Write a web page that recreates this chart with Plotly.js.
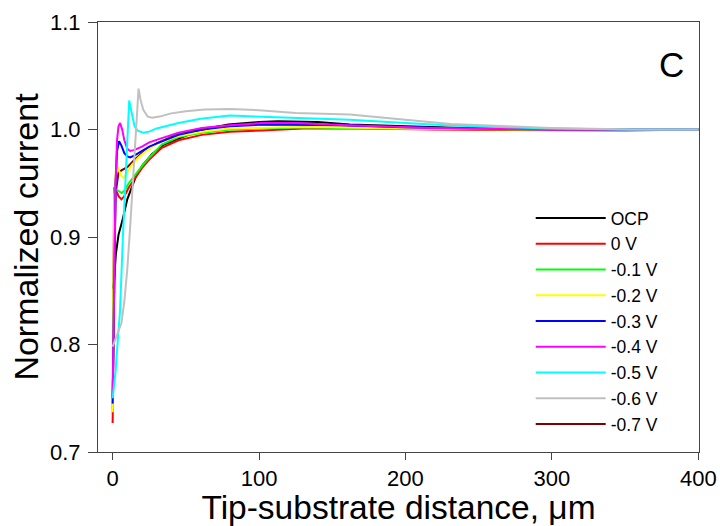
<!DOCTYPE html>
<html>
<head>
<meta charset="utf-8">
<script src="https://cdn.plot.ly/plotly-3.0.1.min.js"></script>
<style>html,body{margin:0;padding:0;background:#fff;}#chart{width:720px;height:526px;}</style>
</head>
<body>
<div id="chart"></div>
<script>
// Series names and colours
const seriesNames = ["OCP", "0 V", "-0.1 V", "-0.2 V", "-0.3 V", "-0.4 V", "-0.5 V", "-0.6 V", "-0.7 V"];

// OCP
const xOCP = [0.3, 0.9, 2.2, 4, 6.6, 10, 15.5, 20, 26.8, 35, 51.6, 65, 79, 100, 113, 140, 162, 200, 250, 300, 350, 400];
const yOCP = [0.852, 0.858, 0.884, 0.902, 0.915, 0.935, 0.955, 0.966, 0.977, 0.986, 0.995, 1.001, 1.0046, 1.007, 1.0077, 1.007, 1.0046, 1.003, 1.001, 1.000, 1.000, 1.000];
// 0 V
const x0V = [0, 0.3, 0.6, 1, 2, 4, 6, 8, 11, 15.4, 20, 25, 33.6, 45, 61, 80, 102, 130, 170, 220, 300, 350, 400];
const y0V = [0.727, 0.76, 0.85, 0.946, 0.945, 0.938, 0.935, 0.938, 0.946, 0.955, 0.964, 0.972, 0.983, 0.990, 0.995, 0.998, 0.999, 1.001, 1.001, 1.000, 0.999, 0.999, 1.000];
// -0.1 V
const xM01 = [0, 0.3, 0.7, 1.2, 2, 4, 6, 8, 11, 15.4, 20, 25, 33.6, 45, 61, 80, 102, 130, 170, 220, 300, 400];
const yM01 = [0.74, 0.78, 0.88, 0.94, 0.944, 0.943, 0.941, 0.943, 0.95, 0.958, 0.966, 0.974, 0.986, 0.993, 0.997, 1.000, 1.001, 1.002, 1.001, 1.0005, 1.000, 1.000];
// -0.2 V
const xM02 = [0, 0.3, 0.7, 1.2, 2.5, 4, 5.5, 7.4, 10, 13, 17.6, 22, 27, 33.6, 45, 61, 80, 115, 150, 200, 300, 400];
const yM02 = [0.737, 0.79, 0.88, 0.94, 0.968, 0.963, 0.958, 0.955, 0.960, 0.967, 0.974, 0.979, 0.984, 0.989, 0.994, 0.998, 1.001, 1.002, 1.002, 1.001, 1.000, 1.000];
// -0.3 V
const xM03 = [0, 0.5, 1, 2, 3, 4.4, 6, 8, 10, 12, 15, 20, 25, 33.6, 45, 61, 80, 102, 130, 160, 197, 250, 300, 400];
const yM03 = [0.745, 0.80, 0.88, 0.95, 0.98, 0.989, 0.985, 0.978, 0.975, 0.974, 0.976, 0.980, 0.984, 0.989, 0.995, 1.000, 1.003, 1.0046, 1.0045, 1.004, 1.002, 1.001, 1.000, 1.000];
// -0.4 V
const xM04 = [0, 0.5, 1, 2, 3, 4, 5.1, 6.5, 8, 10, 12, 15, 20, 25, 33.6, 45, 61, 80, 102, 125, 160, 219, 300, 400];
const yM04 = [0.75, 0.80, 0.87, 0.95, 0.99, 1.003, 1.006, 1.0, 0.99, 0.982, 0.980, 0.981, 0.984, 0.988, 0.992, 0.997, 1.0015, 1.004, 1.006, 1.006, 1.004, 1.0015, 1.000, 1.000];
// -0.5 V
const xM05 = [0, 1, 2, 4, 5, 7, 8.5, 10, 11.3, 12.3, 13.5, 15, 17, 21, 25, 30, 45, 60, 80, 102, 130, 162, 200, 231, 270, 299, 350, 400];
const yM05 = [0.75, 0.76, 0.775, 0.813, 0.83, 0.90, 0.943, 0.99, 1.027, 1.02, 1.011, 1.003, 0.999, 0.997, 0.998, 1.001, 1.006, 1.010, 1.013, 1.012, 1.011, 1.009, 1.006, 1.0037, 1.002, 1.001, 1.000, 1.000];
// -0.6 V
const xM06 = [0, 2, 4, 6, 8, 10, 12, 13.6, 15.5, 17.7, 19, 21, 24, 27, 32, 40, 50, 63, 80, 100, 125, 162, 200, 231, 270, 299, 356, 400];
const yM06 = [0.798, 0.805, 0.812, 0.82, 0.84, 0.87, 0.91, 0.946, 0.99, 1.038, 1.028, 1.018, 1.012, 1.011, 1.012, 1.015, 1.017, 1.0185, 1.019, 1.018, 1.0154, 1.0139, 1.009, 1.0052, 1.003, 1.0015, 1.000, 1.000];
// -0.7 V
const xM07 = [0, 0.5, 1, 2, 4, 6, 10, 15, 20, 30, 45, 61, 80, 100, 130, 170, 220, 300, 400];
const yM07 = [0.75, 0.80, 0.88, 0.94, 0.96, 0.962, 0.965, 0.972, 0.978, 0.987, 0.996, 1.001, 1.004, 1.005, 1.005, 1.003, 1.001, 1.000, 1.000];

const seriesX = [xOCP, x0V, xM01, xM02, xM03, xM04, xM05, xM06, xM07];
const seriesY = [yOCP, y0V, yM01, yM02, yM03, yM04, yM05, yM06, yM07];
const colors = ["#000000", "#ff0000", "#00ff00", "#ffff00", "#0000ff", "#ff00ff", "#00ffff", "#c0c0c0", "#800000"];

const xTicks = [0, 100, 200, 300, 400];
const yTicks = [0.7, 0.8, 0.9, 1.0, 1.1];

// draw -0.7 V first (underneath), keep legend order via legendrank
const drawOrder = [8, 0, 1, 2, 3, 4, 5, 6, 7];
const traces = drawOrder.map(i => ({
  x: seriesX[i], y: seriesY[i], name: seriesNames[i],
  type: "scatter", mode: "lines",
  line: {color: colors[i], width: 2},
  legendrank: i + 1
}));

const font = "Arial, 'Liberation Sans', sans-serif";
const layout = {
  width: 720, height: 526,
  margin: {l: 98, r: 21, t: 22, b: 74},
  paper_bgcolor: "#fff", plot_bgcolor: "#fff",
  font: {family: font, color: "#000", size: 17.5},
  showlegend: true,
  legend: {
    x: 0.72, y: 0.586, xanchor: "left", yanchor: "top",
    bgcolor: "rgba(0,0,0,0)", borderwidth: 0,
    font: {family: font, size: 17.5, color: "#000"},
    tracegroupgap: 0, itemwidth: 70
  },
  xaxis: {
    range: [-10, 400.5], tickvals: xTicks, ticktext: xTicks.map(String),
    showgrid: false, zeroline: false,
    showline: true, linecolor: "#444", linewidth: 1, mirror: true,
    ticks: "outside", ticklen: 7, tickcolor: "#444",
    tickfont: {family: font, size: 22, color: "#000"},
    title: {text: "Tip-substrate distance, \u03bcm", font: {family: font, size: 33.5, color: "#000"}, standoff: 2}
  },
  yaxis: {
    range: [0.7, 1.1], tickvals: yTicks, ticktext: yTicks.map(v => v.toFixed(1)),
    showgrid: false, zeroline: false,
    showline: true, linecolor: "#444", linewidth: 1, mirror: true,
    ticks: "outside", ticklen: 9, tickcolor: "#444",
    ticklabelstandoff: 3,
    tickfont: {family: font, size: 22, color: "#000"},
    title: {text: "Normalized current", font: {family: font, size: 34, color: "#000"}, standoff: 1}
  },
  annotations: [{
    text: "C", xref: "paper", yref: "paper", x: 0.954, y: 0.901,
    xanchor: "center", yanchor: "middle", showarrow: false,
    font: {family: font, size: 35, color: "#000"}
  }]
};

Plotly.newPlot("chart", traces, layout, {staticPlot: true, displayModeBar: false});
</script>
</body>
</html>
